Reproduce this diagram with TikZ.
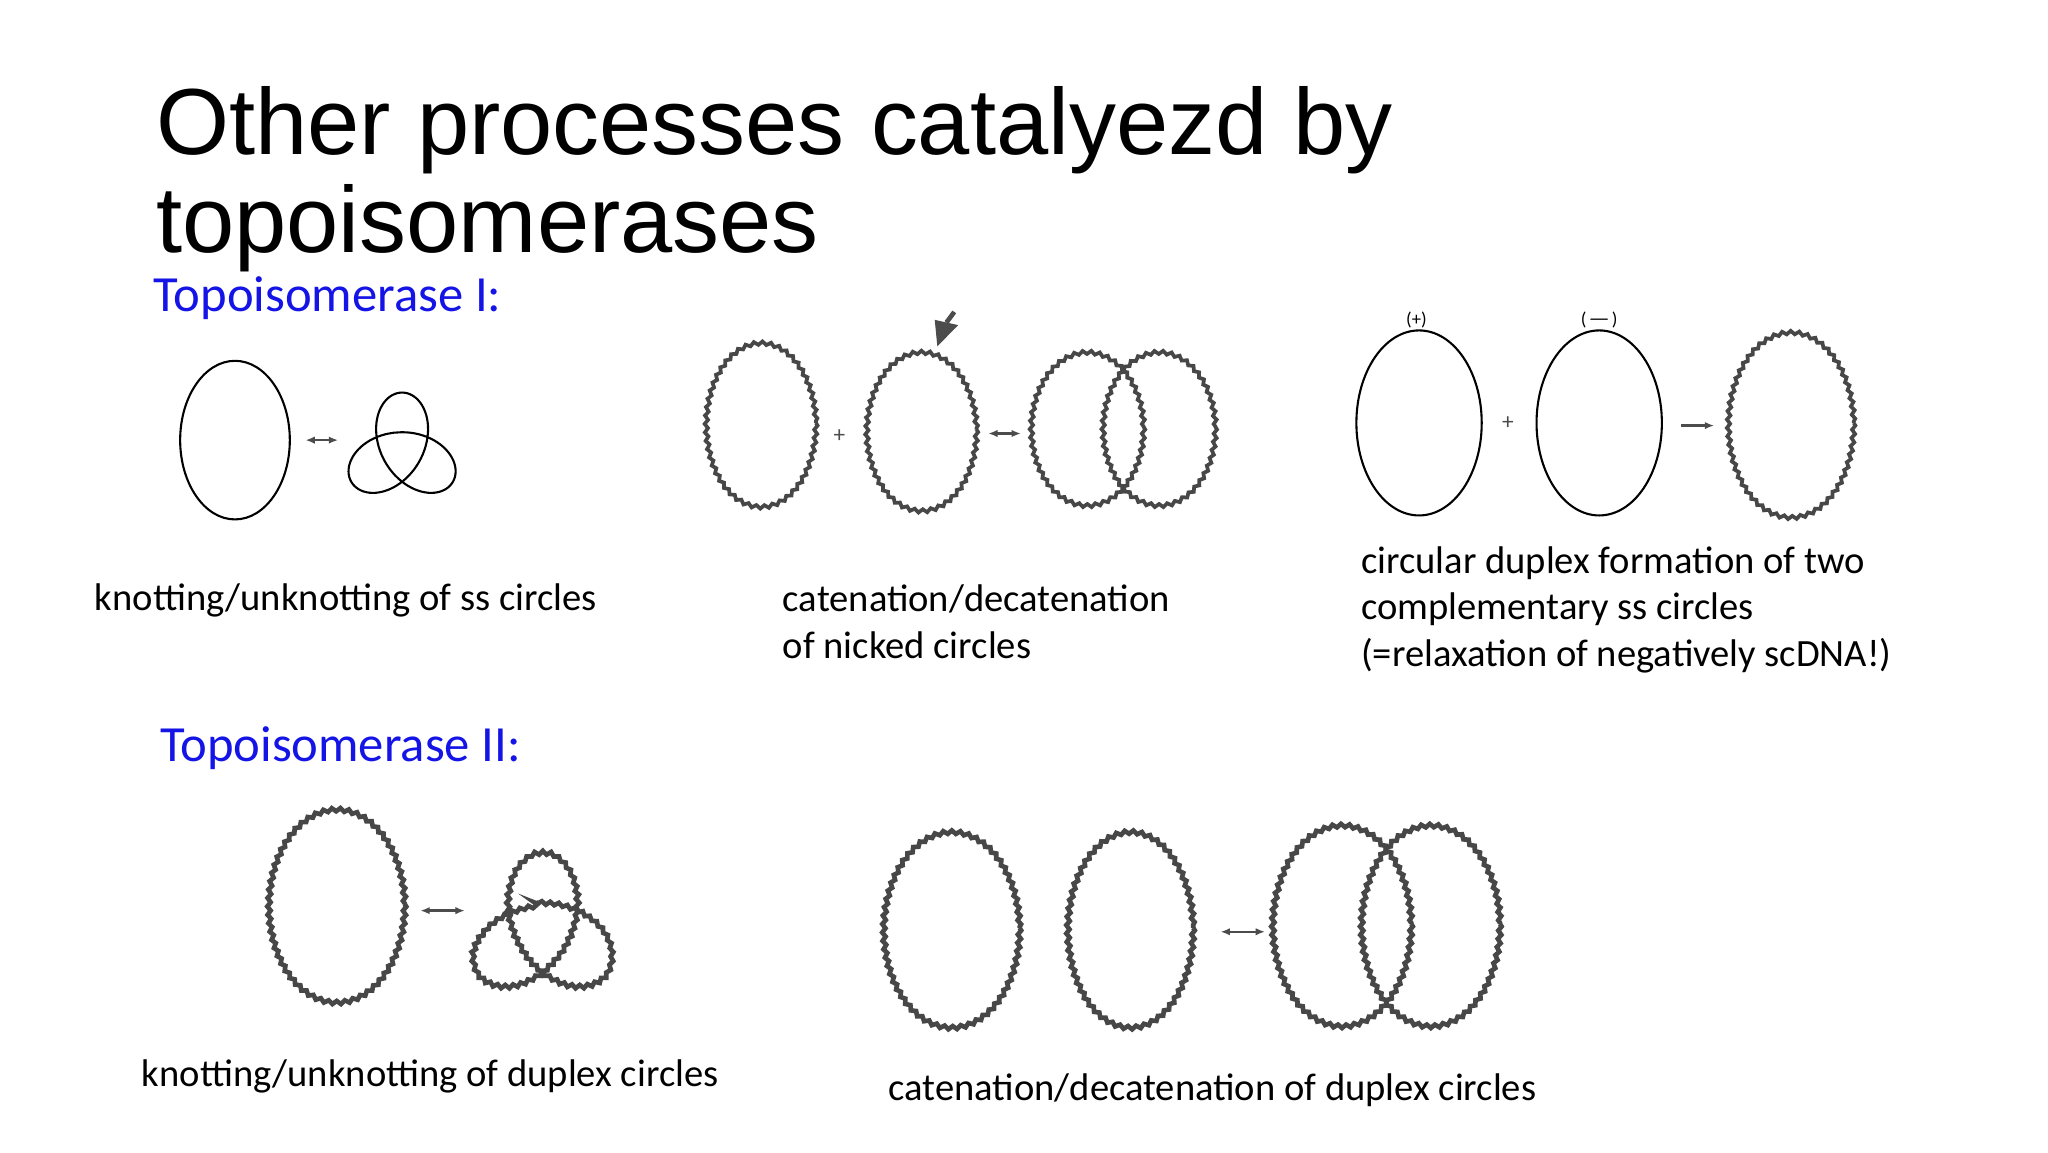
\documentclass[tikz,border=0pt]{standalone}
\usepackage{fontspec}
\setmainfont{Carlito}
\newfontfamily\titlefont{Liberation Sans}
\usetikzlibrary{decorations.pathmorphing,arrows.meta}
\definecolor{tblue}{RGB}{20,20,230}
\tikzset{
 ss/.style={line width=0.45pt,black},
 duplex/.style={line width=0.8pt,black!72,decorate,decoration={snake,amplitude=0.35pt,segment length=1.8pt}},
 lbl/.style={anchor=base west,inner sep=0,font=\fontsize{8.3pt}{9.8pt}\selectfont},
 hdr/.style={anchor=base west,inner sep=0,text=tblue,font=\fontsize{10.9pt}{12pt}\selectfont},
 small/.style={line width=0.5pt,black!70,<->,>={Latex[length=2pt,width=1.6pt]}},
}
\begin{document}
\begin{tikzpicture}[x=0.00988cm,y=-0.01cm]
\useasboundingbox (0,0) rectangle (1568.8,872);
% title
\node[anchor=base west,inner sep=0,font=\titlefont\fontsize{20.2pt}{24pt}\selectfont] (t1) at (119,117) {Other processes catalyezd by};
\node[anchor=base west,inner sep=0,font=\titlefont\fontsize{20.2pt}{24pt}\selectfont] (t2) at (119,191) {topoisomerases};
\node[hdr] (h1) at (117,236) {Topoisomerase I:};
\node[hdr] (h2) at (122,576) {Topoisomerase II:};
% top left
\draw[ss] (180,333) ellipse [x radius=42,y radius=60];
\coordinate (a1) at (234,333); \coordinate (a2) at (259,333);
\draw[small] (a1) -- (a2);
\draw[ss,shift={(308,342)}] plot[domain=0:355,samples=72,smooth] ({15*(sin(\x)+2*sin(2*\x))},{15*(cos(\x)-2*cos(2*\x))}) -- cycle;
% top middle
\draw[duplex] (583,320) ellipse [x radius=42,y radius=62];
\node[font=\tiny,text=black!70] (p1) at (643,330) {+};
\draw[duplex] (706,325) ellipse [x radius=42,y radius=60];
\fill[black!70] (718,262) -- (716,242) -- (734,246) -- cycle;
\draw[black!70,line width=1pt] (725,244) -- (731,236);
\coordinate (b1) at (757,328); \coordinate (b2) at (782,328);
\draw[small] (b1) -- (b2);
\draw[duplex] (833,323) ellipse [x radius=43,y radius=58];
\draw[duplex] (888,323) ellipse [x radius=43,y radius=58];
% top right
\node[font=\fontsize{4pt}{4pt}\selectfont] (pl) at (1085,242) {(+)};
\draw[ss] (1087,320) ellipse [x radius=48,y radius=70];
\node[font=\tiny,text=black!70] (p2) at (1155,320) {+};
\node[font=\fontsize{4pt}{4pt}\selectfont] (mi) at (1225,242) {($-$)};
\draw[ss] (1225,320) ellipse [x radius=48,y radius=70];
\coordinate (c1) at (1288,322); \coordinate (c2) at (1313,322);
\draw[line width=0.5pt,black!70,-{Latex[length=2pt,width=1.6pt]}] (c1) -- (c2);
\draw[duplex] (1372,320) ellipse [x radius=48,y radius=70];
% top labels
\node[lbl] (l1) at (72,462) {knotting/unknotting of ss circles};
\node[lbl] (l2) at (599,463) {catenation/decatenation};
\node[lbl] (l3) at (599,498) {of nicked circles};
\node[lbl] (l4) at (1042,434) {circular duplex formation of two};
\node[lbl] (l5) at (1042,469) {complementary ss circles};
\node[lbl] (l6) at (1042,504) {(=relaxation of negatively scDNA!)};
% bottom left
\draw[duplex,line width=1pt] (258,684) ellipse [x radius=52,y radius=73];
\coordinate (d1) at (322,689); \coordinate (d2) at (356,689);
\draw[small] (d1) -- (d2);
\draw[duplex,line width=1pt,shift={(413,703)}] plot[domain=0:360,samples=73] ({20*(sin(\x)+2*sin(2*\x))},{20*(cos(\x)-2*cos(2*\x))});
% bottom right
\draw[duplex,line width=1pt] (729,702) ellipse [x radius=52,y radius=74];
\draw[duplex,line width=1pt] (866,702) ellipse [x radius=48,y radius=74];
\coordinate (e1) at (935,705); \coordinate (e2) at (969,705);
\draw[small] (e1) -- (e2);
\draw[duplex,line width=1pt] (1028,699) ellipse [x radius=53,y radius=76];
\draw[duplex,line width=1pt] (1096,699) ellipse [x radius=53,y radius=76];
\node[lbl] (l7) at (108,822) {knotting/unknotting of duplex circles};
\node[lbl] (l8) at (680,833) {catenation/decatenation of duplex circles};
\end{tikzpicture}
\end{document}
